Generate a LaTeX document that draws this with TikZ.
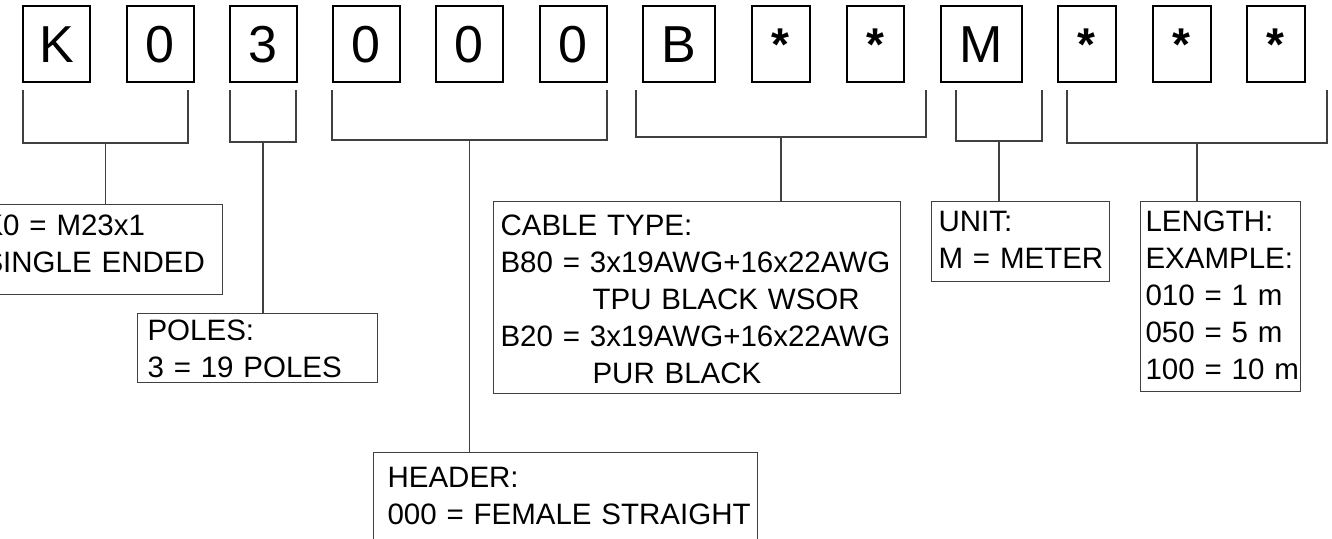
\documentclass[tikz,border=0pt]{standalone}
\usepackage{fontspec}
\setmainfont{Liberation Sans}
\hyphenpenalty=10000
\exhyphenpenalty=10000
\tikzset{
  chr/.style={rectangle, draw=black, line width=1.8pt, anchor=north west, minimum height=76pt,
              inner sep=0pt, text height=37pt, text depth=0pt, font=\fontsize{52}{60}\selectfont},
  brk/.style={draw=black!75, line width=1.1pt},
  lbl/.style={rectangle, draw=black!75, line width=1.1pt, anchor=north west, align=left,
              inner ysep=0pt, font=\fontsize{29.5}{37}\selectfont},
}
\newcommand{\topgap}[1]{\rule{0pt}{#1pt}}
\newcommand{\botgap}[1]{\rule[-#1pt]{0pt}{#1pt}}
\newcommand{\starmark}{\raisebox{\dimexpr34pt-\height\relax}{\fontsize{46}{46}\selectfont\bfseries *}}

\begin{document}
\begin{tikzpicture}[x=1pt,y=-1pt]
\useasboundingbox (0,0) rectangle (1332,538);
% code characters
\foreach \x/\w/\c [count=\i] in {22/67/K, 126/67/0, 229/67/3, 332/67/0, 435/67/0, 539/67/0,
  642/72/B, 751/58/\starmark, 846/57/\starmark, 940/81/M, 1057/58/\starmark,
  1152/58/\starmark, 1246/58/\starmark}
  \node[chr, minimum width=\w] (c\i) at (\x,5) {\c};
% brackets under the groups
\foreach \a/\b/\lo/\n in {23/188/143/g1, 230/296/142/g2, 332/607/140/g3,
  636/926/137/g4, 956/1042/141/g5, 1067/1327/143/g6} {
  \draw[brk] (\a,90) -- (\a,\lo) -- (\b,\lo) -- (\b,90);
  \coordinate (\n) at ({(\a+\b)/2},\lo);
}
\node[lbl, inner xsep=7pt, text width=232pt] (coding) at (-24,204)
  {\topgap{31}K0~=~M23x1\\SINGLE~ENDED\botgap{22}};
\node[lbl, inner xsep=10pt, text width=220pt] (poles) at (137,313)
  {\topgap{27}POLES:\\3~=~19~POLES\botgap{5}};
\node[lbl, inner xsep=14pt, text width=356pt] (header) at (373,452)
  {\topgap{35}HEADER:\\\mbox{000 = FEMALE STRAIGHT}\botgap{30}};
\node[lbl, inner xsep=7pt, text width=393pt] (cable) at (493,201)
  {\topgap{34}CABLE~TYPE:\\B80~=~3x19AWG+16x22AWG\\\hspace*{92pt}TPU~BLACK~WSOR\\
   B20~=~3x19AWG+16x22AWG\\\hspace*{92pt}PUR~BLACK\botgap{10}};
\node[lbl, inner xsep=7pt, text width=164pt] (unit) at (931,201)
  {\topgap{30}UNIT:\\M~=~METER\botgap{13}};
\node[lbl, inner xsep=5pt, text width=150pt] (length) at (1140,201)
  {\topgap{30}LENGTH:\\EXAMPLE:\\010~=~1~m\\050~=~5~m\\100~=~10~m\botgap{12}};
% stems
\draw[brk] (g1) -- (coding.north -| g1);
\draw[brk] (g2) -- (poles.north -| g2);
\draw[brk] (g3) -- (header.north -| g3);
\draw[brk] (g4) -- (cable.north -| g4);
\draw[brk] (g5) -- (unit.north -| g5);
\draw[brk] (g6) -- (length.north -| g6);
\end{tikzpicture}
\end{document}
